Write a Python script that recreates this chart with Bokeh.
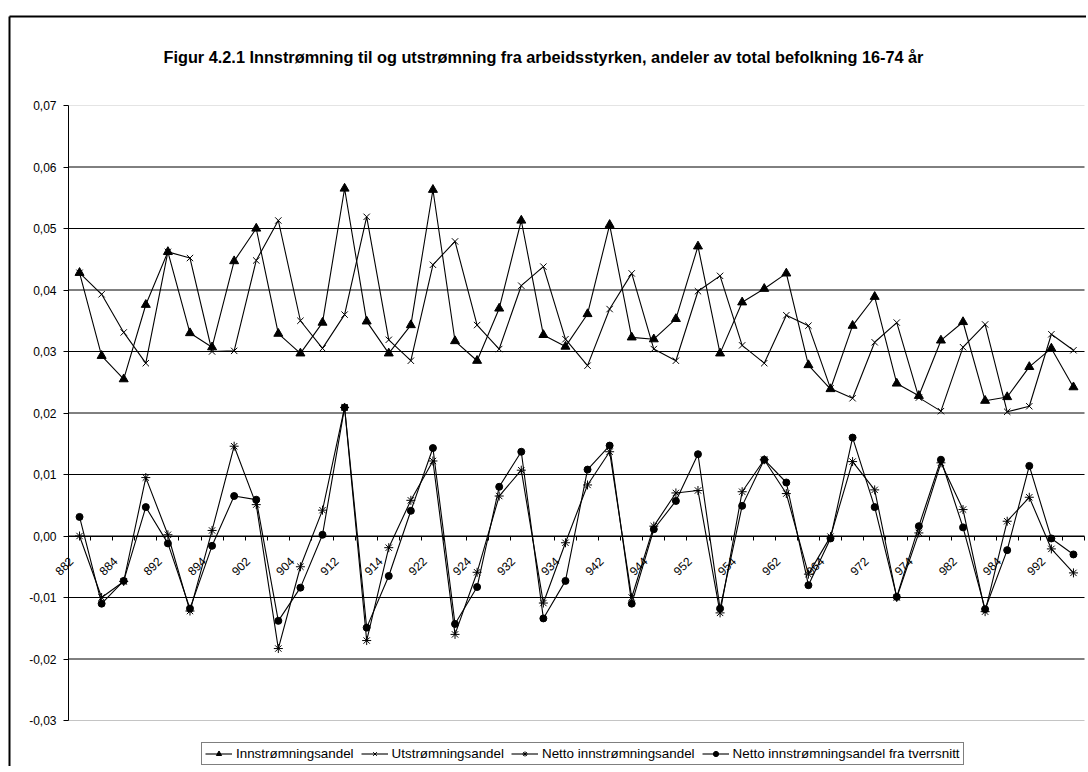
import math
from bokeh.plotting import figure
from bokeh.models import (ColumnDataSource, FixedTicker, CustomJSTickFormatter,
                          Legend, LegendItem, Label, Range1d)
from bokeh.embed import file_html
from bokeh.resources import INLINE

FONT = "Liberation Sans"

title_text = "Figur 4.2.1 Innstrømning til og utstrømning fra arbeidsstyrken, andeler av total befolkning 16-74 år"

quarters = ["882", "883", "884", "891", "892", "893", "894", "901", "902", "903",
            "904", "911", "912", "913", "914", "921", "922", "923", "924", "931",
            "932", "933", "934", "941", "942", "943", "944", "951", "952", "953",
            "954", "961", "962", "963", "964", "971", "972", "973", "974", "981",
            "982", "983", "984", "991", "992", "993"]

innstromning = [0.0428, 0.0293, 0.0255, 0.0376, 0.0462, 0.0330, 0.0307, 0.0447, 0.0500, 0.0329,
                0.0297, 0.0347, 0.0565, 0.0349, 0.0297, 0.0343, 0.0563, 0.0317, 0.0285, 0.0370,
                0.0513, 0.0327, 0.0308, 0.0361, 0.0506, 0.0323, 0.0320, 0.0353, 0.0471, 0.0297,
                0.0380, 0.0402, 0.0427, 0.0278, 0.0239, 0.0342, 0.0389, 0.0248, 0.0228, 0.0318,
                0.0348, 0.0220, 0.0226, 0.0275, 0.0305, 0.0242]

utstromning = [0.0428, 0.0393, 0.0331, 0.0281, 0.0462, 0.0452, 0.0300, 0.0301, 0.0448, 0.0513,
               0.0350, 0.0305, 0.0360, 0.0519, 0.0319, 0.0285, 0.0441, 0.0479, 0.0343, 0.0304,
               0.0407, 0.0438, 0.0320, 0.0277, 0.0369, 0.0427, 0.0304, 0.0285, 0.0398, 0.0423,
               0.0310, 0.0281, 0.0359, 0.0342, 0.0240, 0.0224, 0.0315, 0.0347, 0.0225, 0.0203,
               0.0307, 0.0344, 0.0202, 0.0211, 0.0328, 0.0302]

netto = [0.0000, -0.0100, -0.0074, 0.0095, 0.0002, -0.0122, 0.0009, 0.0146, 0.0051, -0.0183,
         -0.0050, 0.0042, 0.0209, -0.0170, -0.0019, 0.0058, 0.0122, -0.0160, -0.0059, 0.0065,
         0.0107, -0.0109, -0.0011, 0.0083, 0.0137, -0.0100, 0.0016, 0.0070, 0.0074, -0.0125,
         0.0072, 0.0124, 0.0069, -0.0062, -0.0001, 0.0121, 0.0075, -0.0100, 0.0005, 0.0119,
         0.0043, -0.0123, 0.0024, 0.0063, -0.0021, -0.0060]

netto_tverrsnitt = [0.0031, -0.0110, -0.0073, 0.0047, -0.0012, -0.0118, -0.0016, 0.0065, 0.0059, -0.0138,
                    -0.0084, 0.0002, 0.0209, -0.0149, -0.0065, 0.0041, 0.0143, -0.0143, -0.0083, 0.0080,
                    0.0137, -0.0134, -0.0073, 0.0108, 0.0147, -0.0110, 0.0011, 0.0057, 0.0133, -0.0118,
                    0.0049, 0.0124, 0.0087, -0.0080, -0.0004, 0.0160, 0.0047, -0.0099, 0.0016, 0.0124,
                    0.0014, -0.0119, -0.0023, 0.0114, -0.0004, -0.0030]

y_ticks = [-0.03, -0.02, -0.01, 0.0, 0.01, 0.02, 0.03, 0.04, 0.05, 0.06, 0.07]

series_names = ["Innstrømningsandel", "Utstrømningsandel", "Netto innstrømningsandel",
                "Netto innstrømningsandel fra tverrsnitt"]

n = len(quarters)
idx = list(range(1, n + 1))
src = ColumnDataSource(dict(x=idx, q=quarters, inn=innstromning, ut=utstromning,
                            netto=netto, tv=netto_tverrsnitt))

# ---- layout in canvas pixels (the whole canvas is the drawing frame) ----
W, H = 1086, 766
BAND_L, BAND_R = 68, 1084       # plot band left / right
BAND_T, BAND_B = 105, 720       # plot band top (0,07) / bottom (-0,03)
BORDER_X, BORDER_Y = 9, 16      # outer chart border (left, top)
TITLE_X, TITLE_Y = 163, 56
LEGEND_X, LEGEND_BOTTOM = 201, 765

x_lo, x_hi = 0.5, n + 0.5
y_lo, y_hi = y_ticks[0], y_ticks[-1]
step_x = (BAND_R - BAND_L) / (x_hi - x_lo)
unit_y = (BAND_B - BAND_T) / (y_hi - y_lo)


def dx(px):
    return x_lo + (px - BAND_L) / step_x


def dy(py):
    return y_hi - (py - BAND_T) / unit_y


p = figure(width=W, height=H, output_backend="svg", toolbar_location=None,
           x_range=Range1d(dx(0), dx(W)), y_range=Range1d(dy(H), dy(0)),
           min_border_left=0, min_border_right=0, min_border_top=0, min_border_bottom=0)
p.outline_line_color = None
p.background_fill_color = "white"
p.border_fill_color = "white"

# outer chart border (left and top edges; the others lie beyond the picture)
p.segment(x0=[dx(BORDER_X), dx(BORDER_X)], x1=[dx(BORDER_X), dx(W + 10)],
          y0=[dy(BORDER_Y), dy(BORDER_Y)], y1=[dy(H + 10), dy(BORDER_Y)],
          line_color="black", line_width=2)

# title
p.add_layout(Label(x=dx(TITLE_X), y=dy(TITLE_Y), text=title_text, text_align="left",
                   text_baseline="middle", text_font=FONT, text_font_size="16.3px",
                   text_font_style="bold", text_color="black"))

# horizontal grid only across the plot band
p.xgrid.visible = False
p.ygrid.visible = False
inner = y_ticks[1:-1]
p.segment(x0=[x_lo] * len(inner), x1=[x_hi] * len(inner), y0=inner, y1=inner,
          line_color="black", line_width=1)
p.segment(x0=[x_lo], x1=[x_hi], y0=[y_hi], y1=[y_hi], line_color="#e4e4e4", line_width=1)
p.segment(x0=[x_lo], x1=[x_hi], y0=[y_lo], y1=[y_lo], line_color="#c4c4c4", line_width=1)

# value axis
p.yaxis.fixed_location = x_lo
p.yaxis.bounds = (y_lo, y_hi)
p.yaxis.ticker = FixedTicker(ticks=y_ticks)
p.yaxis.formatter = CustomJSTickFormatter(code="return tick.toFixed(2).replace('.', ',');")
p.yaxis.major_label_text_font = FONT
p.yaxis.major_label_text_font_size = "12px"
p.yaxis.major_label_text_color = "black"
p.yaxis.axis_line_color = "black"
p.yaxis.major_tick_line_color = "black"
p.yaxis.major_tick_out = 5
p.yaxis.major_tick_in = 0
p.yaxis.minor_tick_line_color = None
p.yaxis.major_label_standoff = 7

# category axis crossing at zero; labels on every second quarter
label_shift = 0.38
labelled = [i - label_shift for i in idx[0::2]]
boundaries = [i + 0.5 for i in range(0, n + 1)]
p.xaxis.fixed_location = 0
p.xaxis.bounds = (x_lo, x_hi)
p.xaxis.ticker = FixedTicker(ticks=labelled, minor_ticks=boundaries)
p.xaxis.formatter = CustomJSTickFormatter(args=dict(labels=quarters, shift=label_shift),
                                          code="return labels[Math.round(tick + shift) - 1];")
p.xaxis.major_label_orientation = math.pi / 4
p.xaxis.major_label_text_font = FONT
p.xaxis.major_label_text_font_size = "12px"
p.xaxis.major_label_text_color = "black"
p.xaxis.major_tick_in = 0
p.xaxis.major_tick_out = 0
p.xaxis.minor_tick_in = 0
p.xaxis.minor_tick_out = 4
p.xaxis.minor_tick_line_color = "black"
p.xaxis.axis_line_color = "black"
p.xaxis.major_label_standoff = 19

items = []
specs = [("inn", "triangle", 9), ("ut", "x", 9), ("netto", "asterisk", 9), ("tv", "circle", 7)]
for name, (col, marker, size) in zip(series_names, specs):
    lr = p.line("x", col, source=src, line_color="black", line_width=1.1)
    sr = p.scatter("x", col, source=src, marker=marker, size=size,
                   fill_color="black", line_color="black", line_width=1)
    items.append(LegendItem(label=name, renderers=[lr, sr]))

legend = Legend(items=items, orientation="horizontal", location=(LEGEND_X, H - LEGEND_BOTTOM),
                label_text_font=FONT, label_text_font_size="13.4px", label_text_color="black",
                glyph_width=27, glyph_height=13, label_height=13, label_standoff=4, spacing=7,
                padding=3, margin=0, border_line_color="black", border_line_width=1,
                background_fill_color="white", background_fill_alpha=1)
p.add_layout(legend, "center")

open("out.html", "w").write(file_html(p, INLINE))
